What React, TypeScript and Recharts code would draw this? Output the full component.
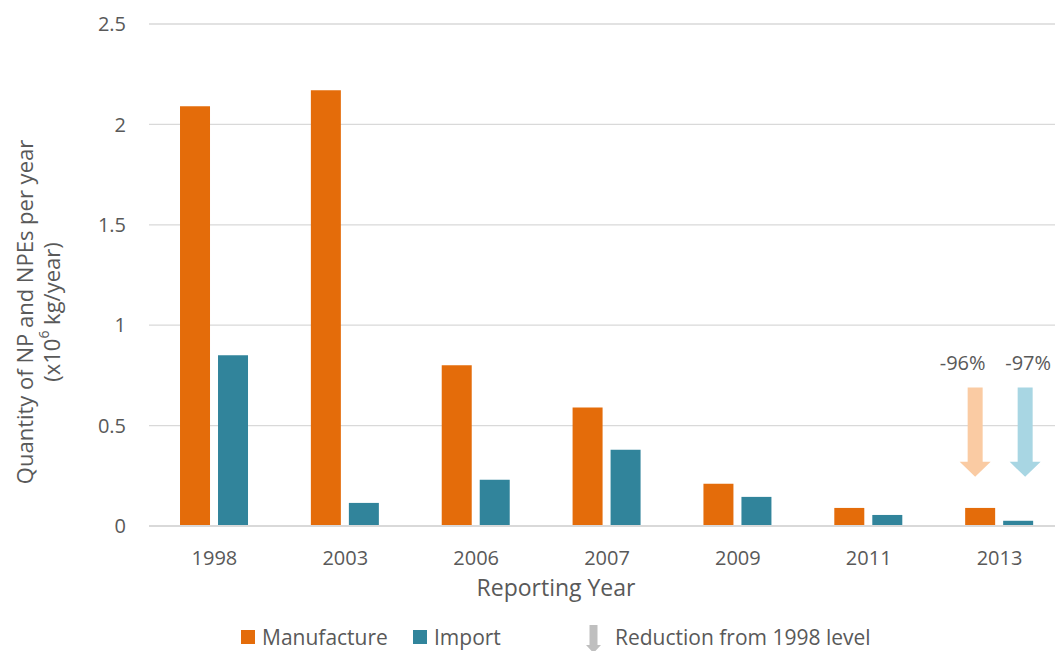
import React from 'react';
import {
  BarChart,
  Bar,
  XAxis,
  YAxis,
  CartesianGrid,
  LabelList,
  Label,
} from 'recharts';

const FONT = '"Open Sans", sans-serif';
const TEXT = '#595959';

const years = ['1998', '2003', '2006', '2007', '2009', '2011', '2013'];
const manufacture = [2.09, 2.17, 0.8, 0.59, 0.21, 0.09, 0.09];
const imports = [0.85, 0.115, 0.23, 0.38, 0.145, 0.055, 0.026];
const yTicks = [0, 0.5, 1, 1.5, 2, 2.5];

// arrow annotation extents (in data units) above the last reporting year
const ARROW_TOP = 0.69;
const ARROW_TIP = 0.245;
const PCT_LABEL_AT = 0.815;

const data = years.map((year, i) => ({
  year,
  manufacture: manufacture[i],
  import: imports[i],
}));

const COLORS = {
  manufacture: '#E46C0A',
  import: '#31849B',
  manufactureLight: '#FACBA3',
  importLight: '#A8D6E3',
  arrowGray: '#BFBFBF',
};

function reductionPct(series: number[]) {
  const first = series[0];
  const last = series[series.length - 1];
  return Math.round(((last - first) / first) * 100);
}

function makeArrowLabel(series: number[], fill: string, shift: number, textShift: number) {
  return function ArrowLabel(props: any) {
    const { x, y, width, height, value, index } = props;
    if (index !== series.length - 1 || !value) return null;
    const pxPerUnit = height / value;
    const base = y + height;
    const mid = x + width / 2;
    const cx = mid + shift;
    const top = base - ARROW_TOP * pxPerUnit;
    const tip = base - ARROW_TIP * pxPerUnit;
    const headH = 15;
    const shaftW = 15;
    const headW = 31;
    const d = [
      `M${cx - shaftW / 2},${top}`,
      `L${cx + shaftW / 2},${top}`,
      `L${cx + shaftW / 2},${tip - headH}`,
      `L${cx + headW / 2},${tip - headH}`,
      `L${cx},${tip}`,
      `L${cx - headW / 2},${tip - headH}`,
      `L${cx - shaftW / 2},${tip - headH}`,
      'Z',
    ].join(' ');
    return (
      <g>
        <path d={d} fill={fill} />
        <text
          x={mid + textShift}
          y={base - PCT_LABEL_AT * pxPerUnit}
          textAnchor="middle"
          dominantBaseline="central"
          fontFamily={FONT}
          fontSize={20}
          fill={TEXT}
        >
          {`${reductionPct(series)}%`}
        </text>
      </g>
    );
  };
}

function YTitle(props: any) {
  const { viewBox } = props;
  const cy = viewBox.y + viewBox.height / 2 + 37;
  return (
    <g fontFamily={FONT} fontSize={22} fill={TEXT} textAnchor="middle">
      <text x={24} y={cy} transform={`rotate(-90, 24, ${cy})`} dominantBaseline="central">
        Quantity of NP and NPEs per year
      </text>
      <text x={51} y={cy} transform={`rotate(-90, 51, ${cy})`} dominantBaseline="central">
        (x10
        <tspan fontSize={14} dy={-8}>
          6
        </tspan>
        <tspan dy={8}> kg/year)</tspan>
      </text>
    </g>
  );
}

function LegendRow() {
  const item = {
    display: 'flex',
    alignItems: 'center',
    position: 'absolute' as const,
    top: 0,
    height: 26,
    lineHeight: '26px',
  };
  return (
    <div
      style={{
        position: 'absolute',
        left: 0,
        top: 624,
        width: 1055,
        height: 27,
        fontFamily: FONT,
        fontSize: 21,
        color: TEXT,
      }}
    >
      <div style={{ ...item, left: 241 }}>
        <span style={{ width: 14, height: 14, background: COLORS.manufacture, marginRight: 7 }} />
        Manufacture
      </div>
      <div style={{ ...item, left: 413 }}>
        <span style={{ width: 14, height: 14, background: COLORS.import, marginRight: 7 }} />
        Import
      </div>
      <div style={{ ...item, left: 586 }}>
        <svg width={15} height={30} style={{ marginRight: 14, marginTop: 6 }}>
          <path d="M3.5,0 L11.5,0 L11.5,20 L15,20 L7.5,28 L0,20 L3.5,20 Z" fill={COLORS.arrowGray} />
        </svg>
        Reduction from 1998 level
      </div>
    </div>
  );
}

export default function App() {
  return (
    <div style={{ position: 'relative', width: 1055, height: 651, overflow: 'hidden', background: '#fff' }}>
      <style>{'body { margin: 0; overflow: hidden; }'}</style>
      <BarChart
        width={1067}
        height={651}
        data={data}
        margin={{ top: 24, right: 2, bottom: 45, left: 0 }}
        barCategoryGap="23.7%"
        barGap={8}
      >
        <CartesianGrid vertical={false} stroke="#D9D9D9" strokeWidth={1.3} />
        <XAxis
          dataKey="year"
          height={80}
          tickLine={false}
          axisLine={{ stroke: '#D9D9D9', strokeWidth: 2 }}
          tickSize={0}
          tickMargin={25}
          tick={{ fontFamily: FONT, fontSize: 20, fill: TEXT }}
        >
          <Label
            value="Reporting Year"
            position="insideBottom"
            offset={10}
            dx={-51}
            style={{ fontFamily: FONT, fontSize: 23, fill: TEXT }}
          />
        </XAxis>
        <YAxis
          width={149}
          domain={[0, 2.5]}
          ticks={yTicks}
          axisLine={false}
          tickLine={false}
          tickSize={0}
          tickMargin={23}
          tick={{ fontFamily: FONT, fontSize: 20, fill: TEXT }}
        >
          <Label content={<YTitle />} />
        </YAxis>
        <Bar dataKey="manufacture" fill={COLORS.manufacture} isAnimationActive={false}>
          <LabelList
            dataKey="manufacture"
            content={makeArrowLabel(manufacture, COLORS.manufactureLight, -5, -17.5)}
          />
        </Bar>
        <Bar dataKey="import" fill={COLORS.import} isAnimationActive={false}>
          <LabelList dataKey="import" content={makeArrowLabel(imports, COLORS.importLight, 7, 10)} />
        </Bar>
      </BarChart>
      <LegendRow />
    </div>
  );
}
